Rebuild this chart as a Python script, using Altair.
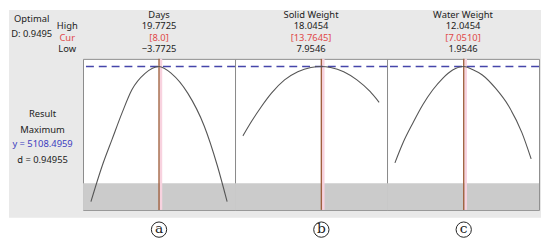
import altair as alt
import pandas as pd

# ---------------- data ----------------
names = ["Days", "Solid Weight", "Water Weight"]
highs = [19.7725, 18.0454, 12.0454]
lows = [-3.7725, 7.9546, 1.9546]
curs = [8.0, 13.7645, 7.0510]
high_labels = ["19.7725", "18.0454", "12.0454"]
cur_labels = ["[8.0]", "[13.7645]", "[7.0510]"]
low_labels = ["\u22123.7725", "7.9546", "1.9546"]
letters = ["a", "b", "c"]

y_optimal = 5108.4959
y_band_top = 2170
y_lo, y_hi = 1500, 5300

days_x = [-3.7725, -1.80, -0.10, 1.61, 3.31, 5.59, 8.0, 10.12, 12.96, 15.81, 18.07, 19.7725]
days_y = [1706, 2617, 3280, 3941, 4522, 4935, 5108.5, 4935, 4438, 3611, 2617, 1706]

solid_x = [7.9546, 8.61, 9.34, 10.07, 11.04, 12.02, 12.99, 13.7645, 14.45, 15.42, 16.40, 17.37, 18.0454]
solid_y = [3362, 3735, 4108, 4438, 4771, 4977, 5084, 5108.5, 5084, 4977, 4771, 4480, 4207]

water_x = [1.9546, 2.563, 3.297, 4.030, 4.763, 5.496, 6.230, 7.051, 7.696, 8.430, 9.405, 10.39, 11.36, 12.0454]
water_y = [2684, 3196, 3693, 4150, 4522, 4811, 5019, 5108.5, 5034, 4895, 4562, 4108, 3444, 2784]

curves_x = [days_x, solid_x, water_x]
curves_y = [days_y, solid_y, water_y]

# ---------------- style ----------------
W, H, LW = 154, 153, 75
FONT = "Noto Sans"
FS = 9.5
RED = "#e04848"
BG = "#e9e9e9"

one = pd.DataFrame({"k": [0]})


def txt(s, x, y, color="#222222", size=FS, font=FONT, align="center"):
    return alt.Chart(one).mark_text(
        text=s, font=font, fontSize=size, color=color, align=align, baseline="middle"
    ).encode(x=alt.value(x), y=alt.value(y))


def panel(i):
    lo, hi = lows[i], highs[i]
    R = hi - lo
    pad = 8 * R / (W - 16)
    xs = alt.Scale(domain=[lo - pad, hi + pad], nice=False, zero=False)
    ys = alt.Scale(domain=[y_lo, y_hi], nice=False, zero=False)
    df = pd.DataFrame({"x": curves_x[i], "y": curves_y[i]})

    band = alt.Chart(one).mark_rect(color="#cbcbcb").encode(
        x=alt.datum(lo - pad, scale=xs, axis=None),
        x2=alt.datum(hi + pad),
        y=alt.datum(y_lo, scale=ys, axis=None),
        y2=alt.datum(y_band_top),
    )
    pink = alt.Chart(one).mark_rule(color="#f8d2df", strokeWidth=2.5, xOffset=2).encode(
        x=alt.datum(curs[i], scale=xs, axis=None)
    )
    red = alt.Chart(one).mark_rule(color="#a0603f", strokeWidth=1.4).encode(
        x=alt.datum(curs[i], scale=xs, axis=None)
    )
    dash = alt.Chart(one).mark_rule(color="#4646aa", strokeWidth=1.5, strokeDash=[8, 5]).encode(
        y=alt.datum(y_optimal, scale=ys, axis=None)
    )
    line = alt.Chart(df).mark_line(color="#555555", strokeWidth=1.1, interpolate="monotone").encode(
        x=alt.X("x:Q", scale=xs, axis=None),
        y=alt.Y("y:Q", scale=ys, axis=None),
    )
    circ = alt.Chart(one).mark_point(
        shape="circle", size=240, filled=False, color="#222222", strokeWidth=1, opacity=1
    ).encode(x=alt.datum(curs[i], scale=xs, axis=None), y=alt.value(173))
    letter = alt.Chart(one).mark_text(
        text=letters[i], font="DejaVu Serif", fontSize=14, color="#222222", baseline="middle", dy=-1
    ).encode(x=alt.datum(curs[i], scale=xs, axis=None), y=alt.value(173))

    texts = [
        txt(names[i], W / 2, -44.5),
        txt(high_labels[i], W / 2, -33),
        txt(cur_labels[i], W / 2, -21.5, color=RED),
        txt(low_labels[i], W / 2, -10),
    ]
    return alt.layer(band, pink, red, dash, line, circ, letter, *texts).properties(
        width=W, height=H,
        view=alt.ViewBackground(fill="white", stroke="#8a8a8a", strokeWidth=1),
    )


bgrect = alt.Chart(one).mark_rect(color=BG).encode(
    x=alt.value(0), x2=alt.value(539), y=alt.value(-49.5), y2=alt.value(161)
)
left = alt.layer(
    bgrect,
    txt("Optimal", 23, -40),
    txt("D: 0.9495", 23, -25),
    txt("High", 59, -33),
    txt("Cur", 59, -21.5, color=RED),
    txt("Low", 59, -10),
    txt("Result", 34, 56),
    txt("Maximum", 34, 72),
    txt("y = 5108.4959", 34, 86, color="#3c3cc0"),
    txt("d = 0.94955", 34, 102),
).properties(
    width=LW, height=H,
    view=alt.ViewBackground(fill="transparent", stroke="transparent"),
)

chart = alt.hconcat(left, panel(0), panel(1), panel(2), spacing=0, bounds="flush").properties(
    padding={"left": 0, "top": 0, "right": 0, "bottom": 0},
    background="white",
)

chart.save("out.html", embed_options={"renderer": "svg", "actions": False})
